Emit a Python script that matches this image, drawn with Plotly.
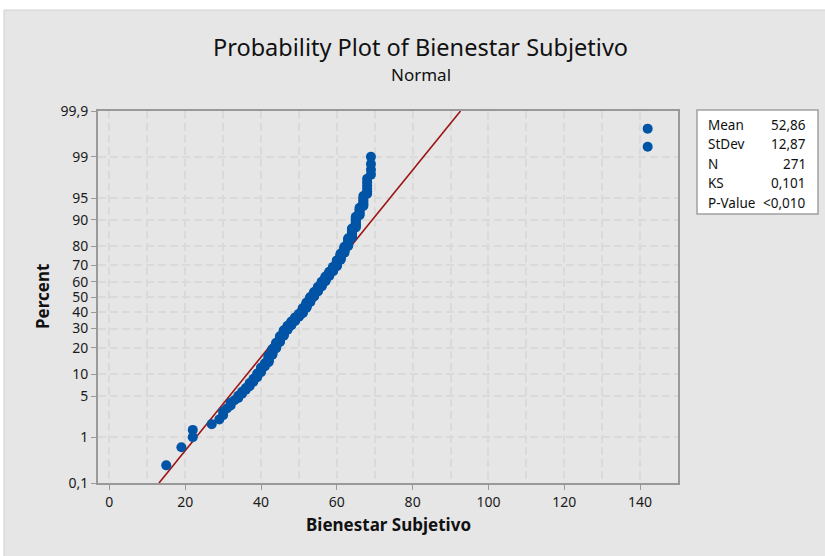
import numpy as np
import plotly.graph_objects as go
from statistics import NormalDist

# ---- data (sorted values with tie counts) ----
values = [15, 19, 22, 27, 29, 30, 31, 32, 33, 34, 35, 36, 37, 38,
          39, 40, 41, 42, 43, 44, 45, 46, 47, 48, 49, 50, 51, 52, 53,
          54, 55, 56, 57, 58, 59, 60, 61, 62, 63, 64, 65, 66, 67, 68, 69, 142]
counts = [1, 1, 2, 1, 1, 2, 1, 2, 1, 2, 2, 2, 3, 3,
          4, 5, 4, 8, 8, 8, 9, 9, 7, 7, 7, 6, 10, 10, 10,
          9, 9, 9, 9, 8, 8, 10, 10, 9, 10, 10, 10, 6, 6, 6, 4, 2]

stat_labels = ["Mean", "StDev", "N", "KS", "P-Value"]
stat_values = ["52,86", "12,87", "271", "0,101", "<0,010"]
mean_fit = 52.86
sd_fit = 12.87

pct_ticks = [0.1, 1, 5, 10, 20, 30, 40, 50, 60, 70, 80, 90, 95, 99, 99.9]
pct_labels = ["0,1", "1", "5", "10", "20", "30", "40", "50", "60", "70", "80", "90", "95", "99", "99,9"]
x_ticks = [0, 20, 40, 60, 80, 100, 120, 140]

title = "Probability Plot of Bienestar Subjetivo"
subtitle = "Normal"
x_title = "Bienestar Subjetivo"
y_title = "Percent"

# ---- computations ----
nd = NormalDist()
data = np.repeat(values, counts)
n = len(data)
ranks = np.arange(1, n + 1)
p = (ranks - 0.3) / (n + 0.4)
z = np.array([nd.inv_cdf(v) for v in p])

zlo, zhi = nd.inv_cdf(0.001), nd.inv_cdf(0.999)
line_z = np.array([zlo, zhi])
line_x = mean_fit + sd_fit * line_z

tick_z = [nd.inv_cdf(t / 100) for t in pct_ticks]

# ---- layout helpers ----
W, H = 825, 556
L, R, T, B = 98, 678, 111, 483
def px(xp):
    return (xp - L) / (R - L)
def py(yp):
    return (B - yp) / (B - T)

FONT = "Noto Sans"
grid = dict(showgrid=True, gridcolor="#dadada", gridwidth=1.5, griddash="8px,4px")

fig = go.Figure()
fig.add_trace(go.Scatter(x=line_x, y=line_z, mode="lines",
                         line=dict(color="#9c1414", width=1.6), hoverinfo="skip"))
fig.add_trace(go.Scatter(x=data, y=z, mode="markers",
                         marker=dict(color="#0054a6", size=10, line=dict(width=0))))

fig.update_layout(
    width=W, height=H,
    margin=dict(l=L, r=W - R, t=T, b=H - B),
    paper_bgcolor="white", plot_bgcolor="white",
    showlegend=False,
    font=dict(family=FONT, color="#222222", size=13),
)
fig.update_xaxes(range=[-3, 150], tickvals=x_ticks, ticks="outside", ticklen=5,
                 tickcolor="#999999", showline=True, linecolor="#999999", linewidth=2,
                 mirror=True, zeroline=False, tickfont=dict(size=14, color="#1a1a1a"),
                 minor=dict(dtick=10, tick0=0, showgrid=True, gridcolor="#dadada",
                            gridwidth=1.5, griddash="8px,4px", ticks=""),
                 **grid)
fig.update_yaxes(range=[zlo, zhi], tickvals=tick_z, ticktext=pct_labels, ticks="outside",
                 ticklen=5, tickcolor="#999999", showline=True, linecolor="#999999",
                 linewidth=2, mirror=True, zeroline=False,
                 tickfont=dict(size=14, color="#1a1a1a"), **grid)

shapes = [
    dict(type="rect", xref="paper", yref="paper", x0=px(4), x1=px(826), y0=py(557), y1=py(10),
         fillcolor="#e6e6e6", line=dict(color="#cfcfcf", width=1), layer="below"),
    dict(type="rect", xref="paper", yref="paper", x0=px(697), x1=px(818), y0=py(214), y1=py(110),
         fillcolor="white", line=dict(color="#a0a0a0", width=1.5)),
]
ann = [
    dict(text=title, x=px(421), y=py(47), xref="paper", yref="paper", showarrow=False,
         xanchor="center", yanchor="middle", font=dict(size=23.5, color="#111111")),
    dict(text=subtitle, x=px(421), y=py(74), xref="paper", yref="paper", showarrow=False,
         xanchor="center", yanchor="middle", font=dict(size=17, color="#111111")),
    dict(text="<b>" + x_title + "</b>", x=px(389), y=py(524), xref="paper", yref="paper",
         showarrow=False, xanchor="center", yanchor="middle", font=dict(size=17, color="#111111")),
    dict(text="<b>" + y_title + "</b>", x=px(42), y=py(297), xref="paper", yref="paper",
         showarrow=False, xanchor="center", yanchor="middle", textangle=-90,
         font=dict(size=17, color="#111111")),
]
row_y = [125, 144.3, 163.5, 183.3, 202.7]
for lab, val, yy in zip(stat_labels, stat_values, row_y):
    ann.append(dict(text=lab, x=px(706), y=py(yy), xref="paper", yref="paper", showarrow=False,
                    xanchor="left", yanchor="middle", font=dict(size=13.5, color="#111111")))
    ann.append(dict(text=val, x=px(808), y=py(yy), xref="paper", yref="paper", showarrow=False,
                    xanchor="right", yanchor="middle", font=dict(size=13.5, color="#111111")))

fig.update_layout(shapes=shapes, annotations=ann)
fig.write_html("out.html")
